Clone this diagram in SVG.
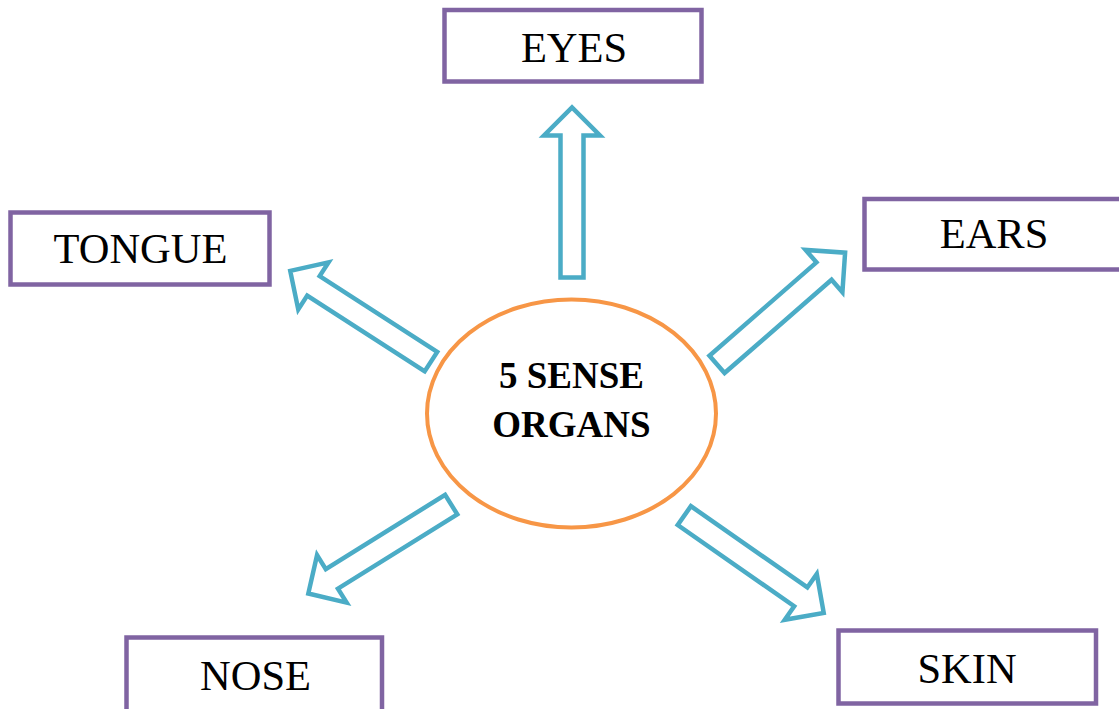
<svg xmlns="http://www.w3.org/2000/svg" width="1119" height="709" viewBox="0 0 1119 709">
<style>
.box{fill:#fff;stroke:#8064A2;stroke-width:4.5}
.lbl{font-family:"Liberation Serif","Times New Roman",serif;font-size:42.5px;fill:#000;text-anchor:middle}
.ctr{font-family:"Liberation Serif","Times New Roman",serif;font-size:37px;font-weight:bold;fill:#000;text-anchor:middle}
.arr{fill:#fff;stroke:#4BACC6;stroke-width:4.5;stroke-linejoin:miter;stroke-miterlimit:10}
</style>
<defs>
<polygon id="ar" points="0,-11.5 142,-11.5 142,-28 170,0 142,28 142,11.5 0,11.5"/>
</defs>
<rect width="1119" height="709" fill="#fff"/>
<g id="connectors">
<use href="#ar" class="arr" transform="translate(572,277.5) rotate(-90)"/>
<use href="#ar" class="arr" transform="translate(431,361.6) rotate(212.8) scale(0.985,1)"/>
<use href="#ar" class="arr" transform="translate(717,364.4) rotate(-41.1)"/>
<use href="#ar" class="arr" transform="translate(451.2,504.6) rotate(148.1) scale(0.99,1)"/>
<use href="#ar" class="arr" transform="translate(684.3,515.6) rotate(34.9)"/>
</g>
<g id="center">
<ellipse cx="571.5" cy="413.5" rx="144.5" ry="114" fill="#fff" stroke="#F79646" stroke-width="4"/>
<text class="ctr" x="571.5" y="388">5 SENSE</text>
<text class="ctr" x="571.5" y="437">ORGANS</text>
</g>
<g id="eyes">
<rect class="box" x="444.5" y="10" width="257" height="71.5"/>
<text class="lbl" x="574" y="61.5">EYES</text>
</g>
<g id="tongue">
<rect class="box" x="10.5" y="212.5" width="259" height="72"/>
<text class="lbl" x="140.5" y="263.3">TONGUE</text>
</g>
<g id="ears">
<rect class="box" x="864.5" y="199" width="262" height="70.5"/>
<text class="lbl" x="994" y="248.3">EARS</text>
</g>
<g id="nose">
<rect class="box" x="126.5" y="637.5" width="255.5" height="74"/>
<text class="lbl" x="255.5" y="690">NOSE</text>
</g>
<g id="skin">
<rect class="box" x="838.5" y="630.5" width="257.5" height="73"/>
<text class="lbl" x="967" y="683">SKIN</text>
</g>
</svg>
